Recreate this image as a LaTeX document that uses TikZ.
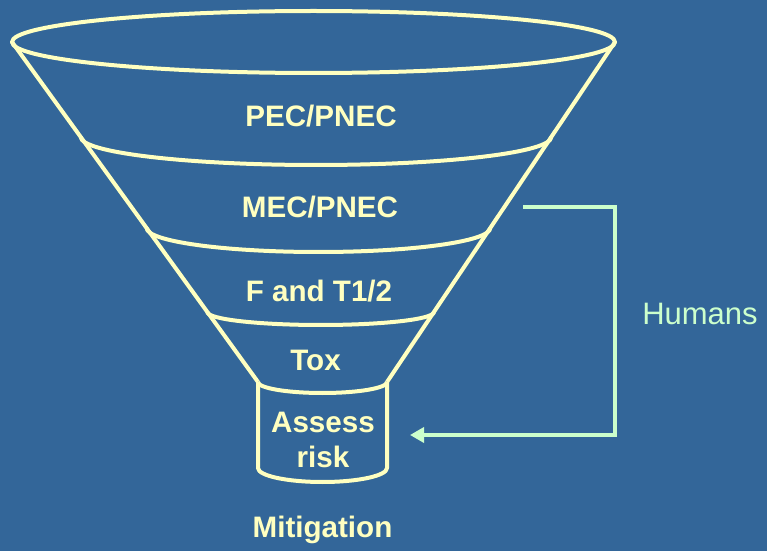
\documentclass[tikz,border=0pt]{standalone}
\usepackage{fontspec}
\setmainfont{Liberation Sans}
\usepackage{tikz}
\usetikzlibrary{arrows.meta, positioning}
\definecolor{bgblue}{HTML}{336699}
\definecolor{funnelyellow}{HTML}{FFFFC0}
\definecolor{humangreen}{HTML}{CCFFCC}

\begin{document}
\begin{tikzpicture}[
  x=0.5pt, y=-0.5pt,
  rim/.style={draw=funnelyellow, line width=2pt, line join=round},
  stage/.style={text=funnelyellow, font=\fontsize{14.8}{17.5}\selectfont\bfseries,
                align=center, inner sep=0pt},
  feedback/.style={draw=humangreen, line width=1.7pt,
                   -{Triangle[length=7pt, width=7.5pt]}}
]
  % background and page size
  \fill[bgblue] (0,0) rectangle (767,551);
  \useasboundingbox (0,0) rectangle (767,551);

  % funnel outline
  \coordinate (tl) at (12,42);
  \coordinate (tr) at (615,42);
  \coordinate (bl) at (258,382);
  \coordinate (br) at (387,382);
  \draw[rim] (313.5,42) ellipse [x radius=301.5, y radius=31];
  \draw[rim] (tl) -- (bl);
  \draw[rim] (tr) -- (br);

  % level arcs
  \draw[rim] (80.7,137) arc [start angle=180, end angle=0, x radius=235.3, y radius=28];
  \draw[rim] (146.6,228) arc [start angle=180, end angle=0, x radius=171.85, y radius=24];
  \draw[rim] (207.3,312) arc [start angle=180, end angle=0, x radius=113.35, y radius=13];
  \draw[rim] (bl) arc [start angle=180, end angle=0, x radius=64.5, y radius=11];

  % spout
  \draw[rim] (bl) -- (258,468) arc [start angle=180, end angle=0, x radius=64.5, y radius=14] -- (br);

  % labels
  \node[stage, anchor=base] (pec)  at (321,127) {PEC/PNEC};
  \node[stage, anchor=base] (mec)  at (320,218) {MEC/PNEC};
  \node[stage, anchor=base] (fate) at (319,301) {F and T1/2};
  \node[stage, anchor=base] (tox)  at (315.5,371) {Tox};
  \node[stage] (assess) at (323,440) {Assess\\risk};
  \node[stage, anchor=base] (mitig) at (322.5,537) {Mitigation};

  % human loop
  \node[text=humangreen, font=\fontsize{15.5}{18}\selectfont, inner sep=0pt]
       (humans) at (700,314) {Humans};
  \coordinate (hstart) at (523,207);
  \coordinate (hcorner) at (615,435);
  \coordinate (hend) at (410,435);
  \draw[feedback] (hstart) -| (hcorner) -- (hend);
\end{tikzpicture}
\end{document}
